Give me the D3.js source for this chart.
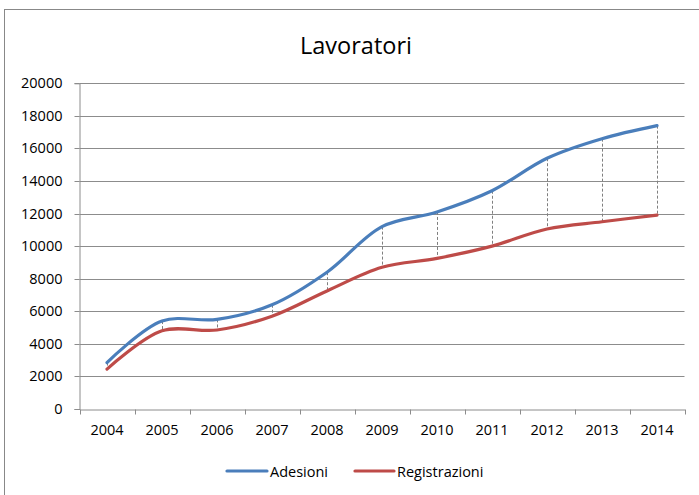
<!DOCTYPE html>
<html><head><meta charset="utf-8">
<script src="https://cdn.jsdelivr.net/npm/d3@7"></script>
<style>body{margin:0;background:#fff}svg{display:block}text{font-family:"Open Sans","Noto Sans",sans-serif;fill:#000}</style>
</head><body>
<svg id="c" width="699" height="495"></svg>
<script>
const years = ["2004","2005","2006","2007","2008","2009","2010","2011","2012","2013","2014"];
const adesioni = [2850,5400,5500,6400,8400,11200,12100,13400,15400,16600,17400];
const registrazioni = [2450,4800,4850,5700,7250,8700,9250,10000,11050,11500,11900];
const yTicks = [0,2000,4000,6000,8000,10000,12000,14000,16000,18000,20000];
const title = "Lavoratori";
const seriesNames = ["Adesioni","Registrazioni"];
const colors = ["#4A7EBB","#BE4B48"];

const svg = d3.select("#c");
svg.append("rect").attr("x",4.5).attr("y",9.5).attr("width",720).attr("height",500)
  .attr("fill","#fff").attr("stroke","#888").attr("stroke-width",1);

const L=79.5, R=684.5, T=83.3, B=409;
const FS="14.5px";
const x = d3.scaleBand().domain(years).range([L,R]);
const y = d3.scaleLinear().domain([0,20000]).range([B,T]);
const cx = d => x(d)+x.bandwidth()/2;

// gridlines
svg.append("g").selectAll("line").data(yTicks.slice(1)).join("line")
  .attr("x1",L).attr("x2",R).attr("y1",d=>Math.round(y(d))+0.5).attr("y2",d=>Math.round(y(d))+0.5)
  .attr("stroke","#8c8c8c").attr("stroke-width",1);

// y axis
const ya = svg.append("g").attr("transform",`translate(${L},0)`)
  .call(d3.axisLeft(y).tickValues(yTicks).tickSize(5).tickPadding(12).tickFormat(d3.format("d")));
ya.select(".domain").attr("stroke","#8c8c8c");
ya.selectAll(".tick line").attr("stroke","#8c8c8c");
ya.selectAll(".tick text").attr("font-size",FS).style("font-family","'Open Sans','Noto Sans',sans-serif");
ya.selectAll(".tick").attr("transform",d=>`translate(0,${Math.round(y(d))+0.5})`);

// x axis
const xa = svg.append("g").attr("transform",`translate(0,${Math.round(B)+0.5})`)
  .call(d3.axisBottom(x).tickSize(0).tickPadding(15));
xa.select(".domain").attr("stroke","#8c8c8c");
xa.selectAll(".tick text").attr("font-size",FS).style("font-family","'Open Sans','Noto Sans',sans-serif");
const edges = years.map(d=>x(d)).concat([R]);
xa.selectAll(".edge").data(edges).join("line").attr("class","edge")
  .attr("x1",d=>Math.round(d)+0.5).attr("x2",d=>Math.round(d)+0.5).attr("y1",0).attr("y2",5)
  .attr("stroke","#8c8c8c");

// drop lines
svg.append("g").selectAll("line").data(years).join("line")
  .attr("x1",d=>Math.round(cx(d))+0.5).attr("x2",d=>Math.round(cx(d))+0.5)
  .attr("y1",(d,i)=>y(adesioni[i])).attr("y2",(d,i)=>y(registrazioni[i]))
  .attr("stroke","#7f7f7f").attr("stroke-width",1).attr("stroke-dasharray","3,2");

// lines
const line = d3.line().x((d,i)=>cx(years[i])).y(d=>y(d)).curve(d3.curveCatmullRom.alpha(0.5));
[adesioni,registrazioni].forEach((s,k)=>{
  svg.append("path").datum(s).attr("d",line).attr("fill","none")
    .attr("stroke",colors[k]).attr("stroke-width",3.2).attr("stroke-linecap","round");
});

// title
svg.append("text").attr("x",356).attr("y",54).attr("text-anchor","middle")
  .attr("font-size","23.5px").text(title);

// legend
const lg = [{x1:227,x2:267,tx:270},{x1:355,x2:394,tx:397}];
lg.forEach((p,k)=>{
  svg.append("line").attr("x1",p.x1).attr("x2",p.x2).attr("y1",471).attr("y2",471)
    .attr("stroke",colors[k]).attr("stroke-width",3.2).attr("stroke-linecap","round");
  svg.append("text").attr("x",p.tx).attr("y",476.5).attr("font-size",FS).text(seriesNames[k]);
});
</script>
</body></html>
